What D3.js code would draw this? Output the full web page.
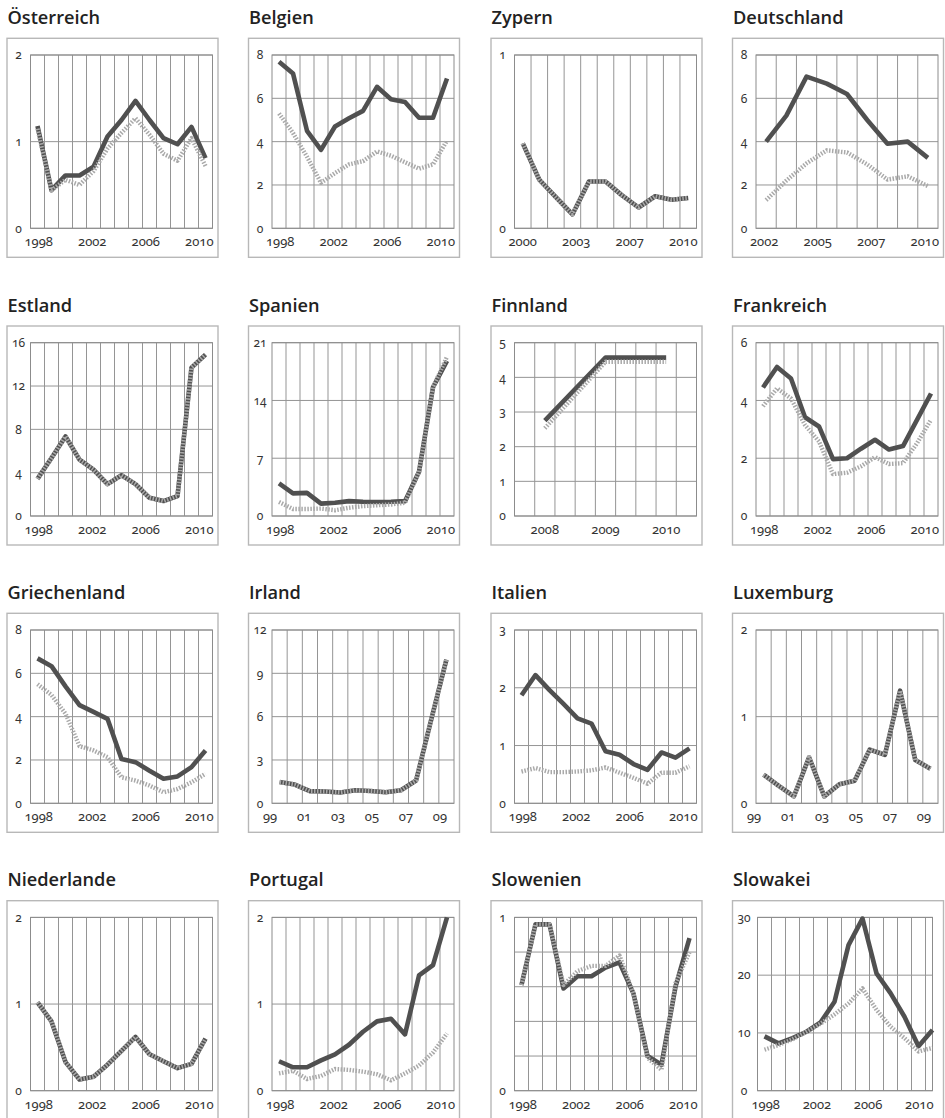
<!DOCTYPE html>
<html><head><meta charset="utf-8">
<script src="https://cdn.jsdelivr.net/npm/d3@7"></script>
<style>
body{margin:0;background:#fff;}
svg text{font-family:"Noto Sans",sans-serif;}
.title{font-family:"Open Sans",sans-serif;font-weight:600;font-size:18.2px;fill:#222;}
.tick{font-size:13px;fill:#333;font-variant-numeric:oldstyle-nums;font-feature-settings:"onum" 1;}
.ytick{font-size:12px;}
</style></head><body>
<svg id="c" width="945" height="1118"></svg>
<script>
// ---------- categories ----------
const years98 = ["1998","1999","2000","2001","2002","2003","2004","2005","2006","2007","2008","2009","2010"];
const years99 = ["1999","2000","2001","2002","2003","2004","2005","2006","2007","2008","2009","2010"];
const years00 = ["2000","2001","2002","2003","2004","2005","2006","2007","2008","2009","2010"];
const years02 = ["2002","2003","2004","2005","2006","2007","2008","2009","2010"];
const finnlandPeriods = ["2008/1","2008/2","2008/3","2009/1","2009/2","2009/3","2010/1","2010/2","2010/3"];

// ---------- x tick labels ----------
const ticks98 = ["1998","2002","2006","2010"];
const ticks00 = ["2000","2003","2007","2010"];
const ticks02 = ["2002","2005","2007","2010"];
const ticksShort = ["99","01","03","05","07","09"];
const finnlandTicks = ["2008","2009","2010"];
const finnlandTickPeriods = ["2008/2","2009/2","2010/2"];

// ---------- y ticks ----------
const yOesterreich = [0,1,2];
const yBelgien = [0,2,4,6,8];
const yZypern = [0,1];
const yDeutschland = [0,2,4,6,8];
const yEstland = [0,4,8,12,16];
const ySpanien = [0,7,14,21];
const yFinnland = [0,1,2,3,4,5];
const yFrankreich = [0,2,4,6];
const yGriechenland = [0,2,4,6,8];
const yIrland = [0,3,6,9,12];
const yItalien = [0,1,2,3];
const yLuxemburg = [0,1,2];
const yNiederlande = [0,1,2];
const yPortugal = [0,1,2];
const ySlowenienGrid = [0,0.2,0.4,0.6,0.8,1];
const ySlowenienLabels = [0,1];
const ySlowakei = [0,10,20,30];

// ---------- series ----------
const oesterreichSolid  = [1.18,0.44,0.61,0.61,0.71,1.06,1.25,1.47,1.25,1.04,0.97,1.17,0.81];
const oesterreichDashed = [1.15,0.44,0.56,0.50,0.66,0.92,1.10,1.27,1.08,0.86,0.78,1.04,0.72];
const belgienSolid  = [7.69,7.15,4.50,3.62,4.70,5.08,5.42,6.53,5.96,5.83,5.10,5.10,6.92];
const belgienDashed = [5.30,4.40,3.30,2.10,2.55,2.95,3.10,3.55,3.35,3.05,2.75,2.95,4.05];
const zypernSolid  = [0.49,0.28,0.18,0.08,0.27,0.27,0.19,0.12,0.185,0.165,0.175];
const zypernDashed = [0.49,0.28,0.18,0.08,0.27,0.27,0.19,0.12,0.185,0.165,0.175];
const deutschlandSolid  = [4.0,5.2,7.0,6.68,6.2,5.0,3.9,4.0,3.25];
const deutschlandDashed = [1.3,2.2,3.0,3.6,3.5,2.95,2.25,2.4,1.95];
const estlandSolid  = [3.43,5.35,7.34,5.2,4.28,2.94,3.76,2.94,1.68,1.38,1.84,13.7,14.9];
const estlandDashed = [3.43,5.35,7.34,5.2,4.28,2.94,3.76,2.94,1.68,1.38,1.84,13.7,14.9];
const spanienSolid  = [3.95,2.74,2.8,1.5,1.6,1.8,1.73,1.7,1.73,1.8,5.36,15.6,18.8];
const spanienDashed = [1.7,0.85,0.85,0.9,0.7,1.0,1.2,1.3,1.4,1.6,5.3,15.6,19.3];
const finnlandSolid  = [null,2.75,null,null,4.57,null,null,4.57,null];
const finnlandDashed = [null,2.53,null,null,4.45,null,null,4.45,null];
const frankreichSolid  = [4.45,5.16,4.76,3.42,3.1,1.97,2.0,2.33,2.64,2.3,2.42,3.33,4.24];
const frankreichDashed = [3.8,4.42,4.07,3.15,2.58,1.45,1.5,1.72,2.04,1.8,1.83,2.52,3.33];
const griechenlandSolid  = [6.69,6.33,5.4,4.53,4.22,3.9,2.05,1.9,1.5,1.13,1.24,1.67,2.44];
const griechenlandDashed = [5.5,5.0,4.14,2.64,2.44,2.13,1.2,1.05,0.82,0.51,0.66,0.97,1.36];
const irlandSolid  = [1.47,1.3,0.84,0.82,0.75,0.9,0.85,0.77,0.9,1.58,5.8,9.95];
const irlandDashed = [1.47,1.3,0.84,0.82,0.75,0.9,0.85,0.77,0.9,1.58,5.8,9.95];
const italienSolid  = [1.87,2.22,1.96,1.72,1.47,1.38,0.9,0.84,0.68,0.58,0.88,0.79,0.95];
const italienDashed = [0.55,0.61,0.54,0.54,0.55,0.57,0.62,0.53,0.44,0.34,0.53,0.53,0.64];
const luxemburgSolid  = [0.33,0.2,0.08,0.53,0.08,0.22,0.26,0.62,0.56,1.3,0.5,0.4];
const luxemburgDashed = [0.33,0.2,0.08,0.53,0.08,0.22,0.26,0.62,0.56,1.3,0.5,0.4];
const niederlandeSolid  = [1.02,0.8,0.33,0.13,0.16,0.3,0.46,0.62,0.42,0.34,0.26,0.31,0.6];
const niederlandeDashed = [1.02,0.8,0.33,0.13,0.16,0.3,0.46,0.62,0.42,0.34,0.26,0.31,0.6];
const portugalSolid  = [0.34,0.27,0.27,0.35,0.42,0.53,0.68,0.8,0.83,0.65,1.33,1.45,2.0];
const portugalDashed = [0.2,0.23,0.135,0.17,0.25,0.24,0.22,0.19,0.12,0.2,0.29,0.44,0.66];
const slowenienSolid  = [0.61,0.96,0.96,0.59,0.66,0.66,0.71,0.74,0.56,0.2,0.15,0.6,0.88];
const slowenienDashed = [0.61,0.96,0.96,0.61,0.69,0.72,0.72,0.78,0.56,0.19,0.12,0.62,0.8];
const slowakeiSolid  = [9.4,8.2,9.1,10.2,11.8,15.4,25.2,29.8,20.3,16.9,12.8,7.7,10.5];
const slowakeiDashed = [7.1,7.9,8.9,10.2,11.6,13.2,15.1,17.7,14.0,11.1,9.1,6.8,7.4];

// ---------- panel table built from the arrays ----------
const panels = [
  {name:"Österreich", cats:years98, solid:oesterreichSolid, dashed:oesterreichDashed, yGrid:yOesterreich, yLab:yOesterreich, xLab:ticks98},
  {name:"Belgien", cats:years98, solid:belgienSolid, dashed:belgienDashed, yGrid:yBelgien, yLab:yBelgien, xLab:ticks98},
  {name:"Zypern", cats:years00, solid:zypernSolid, dashed:zypernDashed, yGrid:yZypern, yLab:yZypern, xLab:ticks00},
  {name:"Deutschland", cats:years02, solid:deutschlandSolid, dashed:deutschlandDashed, yGrid:yDeutschland, yLab:yDeutschland, xLab:ticks02},
  {name:"Estland", cats:years98, solid:estlandSolid, dashed:estlandDashed, yGrid:yEstland, yLab:yEstland, xLab:ticks98},
  {name:"Spanien", cats:years98, solid:spanienSolid, dashed:spanienDashed, yGrid:ySpanien, yLab:ySpanien, xLab:ticks98},
  {name:"Finnland", cats:finnlandPeriods, solid:finnlandSolid, dashed:finnlandDashed, yGrid:yFinnland, yLab:yFinnland, xLab:finnlandTicks, xLabCats:finnlandTickPeriods},
  {name:"Frankreich", cats:years98, solid:frankreichSolid, dashed:frankreichDashed, yGrid:yFrankreich, yLab:yFrankreich, xLab:ticks98},
  {name:"Griechenland", cats:years98, solid:griechenlandSolid, dashed:griechenlandDashed, yGrid:yGriechenland, yLab:yGriechenland, xLab:ticks98},
  {name:"Irland", cats:years99, solid:irlandSolid, dashed:irlandDashed, yGrid:yIrland, yLab:yIrland, xLab:ticksShort},
  {name:"Italien", cats:years98, solid:italienSolid, dashed:italienDashed, yGrid:yItalien, yLab:yItalien, xLab:ticks98},
  {name:"Luxemburg", cats:years99, solid:luxemburgSolid, dashed:luxemburgDashed, yGrid:yLuxemburg, yLab:yLuxemburg, xLab:ticksShort},
  {name:"Niederlande", cats:years98, solid:niederlandeSolid, dashed:niederlandeDashed, yGrid:yNiederlande, yLab:yNiederlande, xLab:ticks98},
  {name:"Portugal", cats:years98, solid:portugalSolid, dashed:portugalDashed, yGrid:yPortugal, yLab:yPortugal, xLab:ticks98},
  {name:"Slowenien", cats:years98, solid:slowenienSolid, dashed:slowenienDashed, yGrid:ySlowenienGrid, yLab:ySlowenienLabels, xLab:ticks98},
  {name:"Slowakei", cats:years98, solid:slowakeiSolid, dashed:slowakeiDashed, yGrid:ySlowakei, yLab:ySlowakei, xLab:ticks98, cutLast:true}
];

const svg = d3.select("#c");
const colX = [7, 248.5, 491, 732.5];
const rowY = [38.3, 326, 613.3, 900.7];
const frameW = 211, frameH = 219;

panels.forEach((p, i) => {
  const fx = colX[i % 4], fy = rowY[Math.floor(i / 4)];
  const g = svg.append("g");

  g.append("text").attr("class", "title").attr("x", fx + 0.5).attr("y", fy - 14.5).text(p.name);
  g.append("rect").attr("x", fx).attr("y", fy).attr("width", frameW).attr("height", frameH)
    .attr("fill", "none").attr("stroke", "#b8b8b8").attr("stroke-width", 1.4);

  const left = fx + (p.cutLast ? 25 : 23.5);
  const fullW = 182;
  const x = d3.scaleBand().domain(p.cats).range([left, left + fullW]);
  const bw = x.bandwidth();
  const right = p.cutLast ? x(p.cats[p.cats.length - 1]) + bw / 2 : left + fullW;
  const top = fy + 16.7, bottom = fy + 190;
  const yMax = d3.max(p.yGrid);
  const y = d3.scaleLinear().domain([0, yMax]).range([bottom, top]);

  // horizontal grid
  g.append("g").selectAll("line").data(p.yGrid).join("line")
    .attr("x1", left).attr("x2", right)
    .attr("y1", d => y(d)).attr("y2", d => y(d))
    .attr("stroke", "#959595").attr("stroke-width", 1);
  // vertical grid at category boundaries
  const bounds = p.cats.slice(1).map(c => x(c)).filter(v => v < right - 0.5);
  g.append("g").selectAll("line").data(bounds).join("line")
    .attr("x1", d => d).attr("x2", d => d).attr("y1", top).attr("y2", bottom)
    .attr("stroke", "#959595").attr("stroke-width", 1);
  g.append("rect").attr("x", left).attr("y", top).attr("width", right - left).attr("height", bottom - top)
    .attr("fill", "none").attr("stroke", "#8c8c8c").attr("stroke-width", 1);

  // y labels
  g.append("g").selectAll("text").data(p.yLab).join("text")
    .attr("class", "tick ytick").attr("x", fx + 11.5).attr("y", d => y(d)).attr("dy", "0.36em")
    .attr("text-anchor", "middle").text(d => d3.format("d")(d));

  // x labels
  const xl = g.append("g");
  const texts = xl.selectAll("text").data(p.xLab).join("text")
    .attr("class", "tick").attr("y", bottom + 18).attr("text-anchor", "middle").text(d => d);
  if (p.xLabCats) {
    texts.attr("x", (d, k) => x(p.xLabCats[k]) + bw / 2);
  } else {
    const nodes = texts.nodes();
    const w0 = nodes[0].getComputedTextLength();
    const wN = nodes[nodes.length - 1].getComputedTextLength();
    const short = p.xLab[0].length <= 2;
    const padL = short ? -9 : -6, padR = short ? -7 : 1;
    const sp = d3.scalePoint().domain(p.xLab).range([left + padL + w0 / 2, right + padR - wN / 2]);
    texts.attr("x", d => sp(d));
  }

  const pts = s => p.cats.map((c, k) => ({c, v: s[k]})).filter(d => d.v != null);
  const line = d3.line().x(d => x(d.c) + bw / 2).y(d => y(d.v)).curve(d3.curveLinear);

  g.append("path").attr("d", line(pts(p.solid))).attr("fill", "none")
    .attr("stroke", "#505050").attr("stroke-width", 4.6).attr("stroke-linejoin", "round");
  g.append("path").attr("d", line(pts(p.dashed))).attr("fill", "none")
    .attr("stroke", "#a9a9a9").attr("stroke-width", 4.4).attr("stroke-dasharray", "1.5,1.5")
    .attr("stroke-linejoin", "round");
});
</script>
</body></html>
